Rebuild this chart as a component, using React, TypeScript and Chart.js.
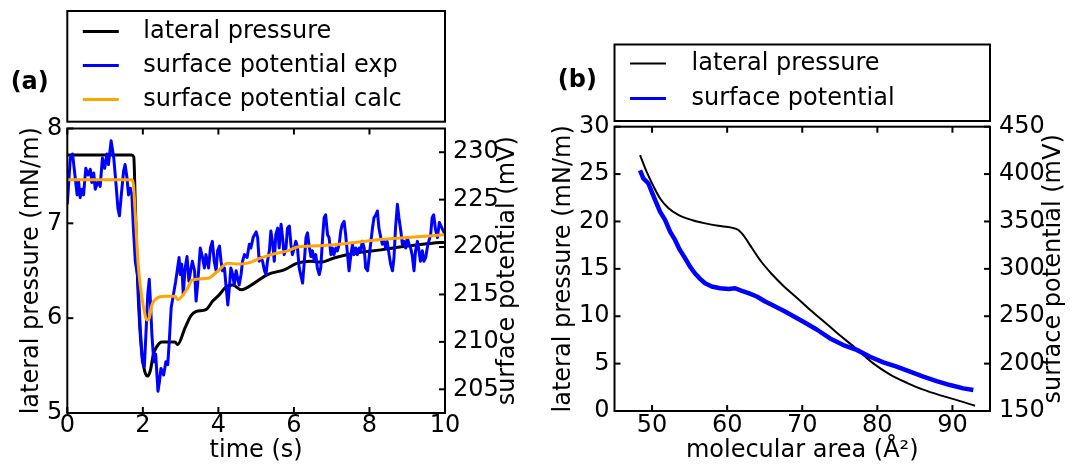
import React, { useEffect, useRef } from 'react';
import { Chart, registerables } from 'chart.js';

Chart.register(...registerables);

const FONT = '"DejaVu Sans", sans-serif';
const FONT_SIZE = 24;
const TICK_LEN = 6;

// ---------- Panel (a) data ----------
const timeTicks = [0, 2, 4, 6, 8, 10];
const pressureTicksA = [5, 6, 7, 8];
const potentialTicksA = [205, 210, 215, 220, 225, 230];

const pressureTime = [0, 1.70, 1.76, 1.80, 1.86, 1.92, 1.98, 2.05, 2.13, 2.20, 2.28, 2.37, 2.50, 2.85, 2.92, 3.12, 3.28, 3.41, 3.67, 3.85, 4.03, 4.20, 4.38, 4.60, 4.95, 5.30, 5.74, 6.09, 6.45, 6.71, 7.06, 7.68, 8.30, 9.00, 9.66, 10.0];
const pressureValues = [7.72, 7.72, 7.70, 7.20, 6.40, 5.90, 5.60, 5.44, 5.39, 5.45, 5.62, 5.70, 5.75, 5.75, 5.72, 5.90, 6.03, 6.07, 6.09, 6.18, 6.25, 6.33, 6.35, 6.30, 6.37, 6.46, 6.51, 6.58, 6.60, 6.59, 6.635, 6.69, 6.72, 6.76, 6.79, 6.80];

const calcTime = [0, 1.71, 1.75, 1.82, 1.87, 1.93, 2.02, 2.11, 2.17, 2.24, 2.37, 2.59, 2.85, 2.92, 3.19, 3.30, 3.72, 3.98, 4.25, 4.51, 4.77, 5.13, 5.48, 5.83, 6.09, 6.49, 7.06, 7.68, 8.30, 9.00, 9.66, 10.0];
const calcValues = [227.1, 227.1, 226.6, 222.0, 218.5, 216.0, 213.6, 212.3, 212.5, 213.9, 214.6, 214.8, 214.8, 214.45, 215.7, 216.5, 216.7, 217.45, 218.3, 218.2, 218.3, 218.85, 219.3, 219.6, 220.0, 220.1, 220.25, 220.5, 220.8, 221.0, 221.2, 221.3];

const expTime = [
  0.00, 0.08, 0.14, 0.21, 0.26, 0.30, 0.34, 0.39, 0.43, 0.49,
  0.55, 0.61, 0.65, 0.70, 0.74, 0.81, 0.87, 0.93, 0.99, 1.05,
  1.09, 1.16, 1.23, 1.29, 1.34, 1.38, 1.43, 1.49, 1.53, 1.58,
  1.62, 1.67, 1.71, 1.75, 1.80, 1.87, 1.93, 1.99, 2.04, 2.09,
  2.13, 2.17, 2.20, 2.24, 2.29, 2.34, 2.40, 2.44, 2.48, 2.55,
  2.61, 2.66, 2.70, 2.75, 2.81, 2.87, 2.92, 2.96, 2.99, 3.03,
  3.07, 3.12, 3.17, 3.22, 3.31, 3.37, 3.41, 3.45, 3.52, 3.58,
  3.63, 3.67, 3.74, 3.79, 3.84, 3.89, 3.94, 3.98, 4.03, 4.07,
  4.11, 4.16, 4.20, 4.25, 4.29, 4.33, 4.38, 4.42, 4.47, 4.51,
  4.55, 4.60, 4.64, 4.69, 4.76, 4.82, 4.86, 4.92, 5.00, 5.04,
  5.08, 5.13, 5.17, 5.22, 5.26, 5.30, 5.35, 5.39, 5.44, 5.48,
  5.52, 5.57, 5.61, 5.66, 5.70, 5.74, 5.79, 5.83, 5.88, 5.92,
  5.96, 6.01, 6.05, 6.09, 6.14, 6.18, 6.23, 6.27, 6.32, 6.36,
  6.40, 6.45, 6.49, 6.54, 6.58, 6.62, 6.67, 6.71, 6.76, 6.80,
  6.84, 6.89, 6.93, 6.98, 7.02, 7.06, 7.11, 7.15, 7.20, 7.24,
  7.28, 7.33, 7.37, 7.42, 7.46, 7.50, 7.55, 7.59, 7.64, 7.68,
  7.73, 7.77, 7.81, 7.86, 7.90, 7.95, 7.99, 8.03, 8.08, 8.12,
  8.17, 8.21, 8.25, 8.30, 8.34, 8.39, 8.43, 8.47, 8.52, 8.56,
  8.61, 8.65, 8.69, 8.74, 8.78, 8.83, 8.87, 8.91, 8.96, 9.00,
  9.05, 9.09, 9.13, 9.18, 9.22, 9.27, 9.31, 9.35, 9.40, 9.44,
  9.49, 9.53, 9.57, 9.62, 9.66, 9.70, 9.75, 9.80, 9.85, 9.92,
  10.00,
];
const expValues = [
  224.5, 229.4, 229.8, 227.3, 225.5, 226.9, 225.2, 226.1, 225.5, 228.3,
  227.6, 228.2, 226.8, 227.8, 226.1, 226.9, 226.4, 229.4, 228.3, 229.8,
  228.7, 231.2, 229.4, 226.6, 224.1, 223.3, 225.5, 228.0, 228.7, 227.3,
  225.5, 226.2, 225.5, 222.0, 218.5, 216.7, 211.5, 207.9, 207.4, 211.5,
  215.0, 216.6, 214.3, 210.8, 207.9, 208.7, 204.8, 205.8, 207.2, 206.5,
  207.9, 207.6, 210.1, 213.6, 215.0, 216.4, 217.8, 218.9, 217.1, 218.2,
  215.0, 217.8, 219.0, 216.4, 218.5, 217.5, 214.3, 216.0, 219.9, 218.9,
  217.8, 219.2, 217.8, 219.9, 220.6, 218.5, 217.5, 219.6, 220.1, 218.5,
  217.5, 217.8, 216.0, 213.9, 215.7, 217.8, 217.1, 216.0, 217.5, 216.7,
  216.0, 217.1, 218.5, 219.2, 218.9, 220.3, 219.9, 221.0, 221.6, 221.0,
  218.5, 218.9, 218.5, 217.5, 217.1, 218.5, 219.6, 221.7, 220.3, 218.5,
  221.3, 222.0, 219.9, 222.4, 221.0, 219.2, 219.9, 222.0, 222.2, 220.3,
  219.2, 219.9, 220.6, 220.1, 217.8, 217.1, 216.2, 218.2, 221.0, 221.5,
  220.2, 219.0, 219.6, 218.5, 219.2, 217.8, 217.1, 217.8, 221.0, 223.1,
  223.4, 221.3, 221.0, 219.2, 219.9, 219.2, 219.9, 219.6, 220.3, 221.7,
  222.4, 222.7, 221.3, 219.2, 217.5, 218.9, 220.3, 219.2, 219.9, 219.2,
  219.9, 219.6, 220.6, 219.9, 217.8, 217.5, 218.9, 220.3, 222.0, 223.1,
  223.4, 223.8, 222.0, 221.0, 220.3, 220.6, 219.9, 220.6, 219.2, 218.2,
  217.5, 218.9, 222.0, 224.5, 223.1, 221.7, 220.3, 220.6, 219.9, 221.0,
  220.3, 219.9, 219.2, 217.5, 219.6, 220.6, 219.6, 218.5, 219.6, 218.5,
  218.9, 219.9, 220.6, 221.3, 223.1, 223.4, 221.8, 221.0, 222.6, 222.0,
  221.3,
];

// ---------- Panel (b) data ----------
const areaTicks = [50, 60, 70, 80, 90];
const pressureTicksB = [0, 5, 10, 15, 20, 25, 30];
const potentialTicksB = [150, 200, 250, 300, 350, 400, 450];

const isothermArea = [48.4, 49.3, 50.2, 51.1, 52.2, 53.5, 55.3, 57.1, 58.8, 60.6, 61.5, 62.2, 63.3, 64.5, 66.0, 67.5, 69.2, 71.0, 72.8, 74.6, 77.0, 79.5, 81.7, 84.0, 86.1, 88.4, 90.6, 93.0];
const isothermPressure = [27.0, 25.2, 23.7, 22.4, 21.4, 20.7, 20.15, 19.8, 19.55, 19.35, 19.1, 18.5, 17.2, 15.8, 14.4, 13.2, 12.0, 10.7, 9.5, 8.25, 6.7, 5.0, 3.85, 2.95, 2.25, 1.65, 1.15, 0.55];

const potentialArea = [48.4, 48.84, 49.5, 49.95, 50.4, 51.06, 51.73, 52.4, 53.06, 53.7, 54.4, 55.06, 55.7, 56.4, 57.06, 57.95, 59.06, 60.2, 61.06, 61.95, 62.84, 63.95, 65.06, 66.4, 67.7, 68.95, 70.15, 71.92, 73.7, 75.47, 77.25, 79.02, 80.8, 82.57, 84.35, 86.12, 87.9, 89.67, 91.45, 92.78];
const potentialValues = [404, 395.5, 390.3, 381.5, 372.7, 360.4, 351.6, 339.3, 330.5, 320, 311.2, 302.4, 295.4, 289.4, 284.8, 281.3, 279.5, 278.8, 279.5, 276.7, 274.3, 270.8, 265.5, 260.2, 254.9, 249.5, 244.2, 236.0, 226.6, 219.6, 214.5, 207.3, 201.3, 196.8, 191.5, 186.2, 181.6, 177.4, 173.9, 172.1];

function pairs(xs: number[], ys: number[]) {
  return xs.map((x, i) => ({ x, y: ys[i] }));
}

type PanelCfg = {
  datasets: any[];
  xMin: number; xMax: number; xTicks: number[];
  yMin: number; yMax: number; yTicks: number[];
  y2Min: number; y2Max: number; y2Ticks: number[];
  top: number; xAxisHeight: number; leftWidth: number; rightWidth: number;
  xTickPad: number; leftTickPad: number; rightTickPad: number;
  xTitle: string; xTitlePad: number;
  leftTitle: string; leftTitlePad: number;
  rightTitle: string; rightTitleX: number;
  legend: { left: number; right: number; top: number; bottom: number; rows: number[]; lineX0: number; lineX1: number; textX: number; lineWidths: number[] };
  panelLabel: string; panelX: number; panelY: number;
};

function decor(cfg: PanelCfg) {
  return {
    id: 'decor',
    afterDraw(chart: any) {
      const ctx: CanvasRenderingContext2D = chart.ctx;
      const ca = chart.chartArea;
      ctx.save();
      ctx.strokeStyle = '#000';
      ctx.lineCap = 'butt';
      ctx.lineWidth = 2;
      const seg = (x1: number, y1: number, x2: number, y2: number) => {
        ctx.beginPath();
        ctx.moveTo(x1, y1);
        ctx.lineTo(x2, y2);
        ctx.stroke();
      };
      const xs = chart.scales.x;
      for (const t of xs.ticks) {
        const p = xs.getPixelForValue(t.value);
        seg(p, ca.bottom, p, ca.bottom - TICK_LEN);
        seg(p, ca.top, p, ca.top + TICK_LEN);
      }
      const yl = chart.scales.y;
      for (const t of yl.ticks) {
        const p = yl.getPixelForValue(t.value);
        seg(ca.left, p, ca.left + TICK_LEN, p);
      }
      const yr = chart.scales.y2;
      for (const t of yr.ticks) {
        const p = yr.getPixelForValue(t.value);
        seg(ca.right, p, ca.right - TICK_LEN, p);
      }
      ctx.strokeRect(ca.left, ca.top, ca.right - ca.left, ca.bottom - ca.top);

      // right axis title (reads bottom to top)
      ctx.save();
      ctx.translate(cfg.rightTitleX, (ca.top + ca.bottom) / 2);
      ctx.rotate(-Math.PI / 2);
      ctx.font = `${FONT_SIZE}px ${FONT}`;
      ctx.fillStyle = '#000';
      ctx.textAlign = 'center';
      ctx.textBaseline = 'middle';
      ctx.fillText(cfg.rightTitle, 0, 0);
      ctx.restore();

      // legend box
      const L = cfg.legend;
      ctx.fillStyle = '#fff';
      ctx.fillRect(L.left, L.top, L.right - L.left, L.bottom - L.top);
      ctx.lineWidth = 2;
      ctx.strokeStyle = '#000';
      ctx.strokeRect(L.left, L.top, L.right - L.left, L.bottom - L.top);
      ctx.font = `${FONT_SIZE}px ${FONT}`;
      ctx.textAlign = 'left';
      ctx.textBaseline = 'middle';
      chart.data.datasets.forEach((ds: any, i: number) => {
        const y = L.rows[i];
        ctx.strokeStyle = ds.borderColor;
        ctx.lineWidth = L.lineWidths[i];
        seg(L.left + L.lineX0, y, L.left + L.lineX1, y);
        ctx.fillStyle = '#000';
        ctx.fillText(ds.label, L.left + L.textX, y);
      });

      // panel label
      ctx.font = `bold ${FONT_SIZE}px ${FONT}`;
      ctx.fillStyle = '#000';
      ctx.textAlign = 'center';
      ctx.textBaseline = 'alphabetic';
      ctx.fillText(cfg.panelLabel, cfg.panelX, cfg.panelY);
      ctx.restore();
    },
  };
}

function buildChart(canvas: HTMLCanvasElement, cfg: PanelCfg) {
  const tickFont = { family: FONT, size: FONT_SIZE, lineHeight: 1 };
  return new Chart(canvas, {
    type: 'line',
    data: { datasets: cfg.datasets },
    options: {
      animation: false,
      responsive: false,
      devicePixelRatio: 1,
      events: [],
      layout: { padding: { top: cfg.top, left: 0, right: 0, bottom: 0 } },
      plugins: { legend: { display: false }, tooltip: { enabled: false }, title: { display: false } },
      elements: { point: { radius: 0 }, line: { borderJoinStyle: 'round' } },
      scales: {
        x: {
          type: 'linear',
          min: cfg.xMin,
          max: cfg.xMax,
          afterBuildTicks: (s: any) => { s.ticks = cfg.xTicks.map((v) => ({ value: v })); },
          afterFit: (s: any) => { s.height = cfg.xAxisHeight; },
          grid: { display: false, drawTicks: false },
          border: { display: false },
          ticks: { font: tickFont, color: '#000', padding: cfg.xTickPad, autoSkip: false, maxRotation: 0, callback: (v: any) => String(v) },
          title: { display: true, text: cfg.xTitle, color: '#000', font: tickFont, padding: { top: 0, bottom: cfg.xTitlePad } },
        },
        y: {
          type: 'linear',
          position: 'left',
          min: cfg.yMin,
          max: cfg.yMax,
          afterBuildTicks: (s: any) => { s.ticks = cfg.yTicks.map((v) => ({ value: v })); },
          afterFit: (s: any) => { s.width = cfg.leftWidth; },
          grid: { display: false, drawTicks: false },
          border: { display: false },
          ticks: { font: tickFont, color: '#000', padding: cfg.leftTickPad, autoSkip: false, callback: (v: any) => String(v) },
          title: { display: true, text: cfg.leftTitle, color: '#000', font: tickFont, padding: { top: cfg.leftTitlePad, bottom: 0 } },
        },
        y2: {
          type: 'linear',
          position: 'right',
          min: cfg.y2Min,
          max: cfg.y2Max,
          afterBuildTicks: (s: any) => { s.ticks = cfg.y2Ticks.map((v) => ({ value: v })); },
          afterFit: (s: any) => { s.width = cfg.rightWidth; },
          grid: { display: false, drawTicks: false },
          border: { display: false },
          ticks: { font: tickFont, color: '#000', padding: cfg.rightTickPad, autoSkip: false, callback: (v: any) => String(v) },
        },
      },
    } as any,
    plugins: [decor(cfg) as any],
  });
}

const panelA: PanelCfg = {
  datasets: [
    { label: 'lateral pressure', data: pairs(pressureTime, pressureValues), borderColor: '#000000', borderWidth: 3, yAxisID: 'y', order: 3, fill: false, pointRadius: 0, cubicInterpolationMode: 'monotone' },
    { label: 'surface potential exp', data: pairs(expTime, expValues), borderColor: '#0000ff', borderWidth: 3, yAxisID: 'y2', order: 2, fill: false, pointRadius: 0 },
    { label: 'surface potential calc', data: pairs(calcTime, calcValues), borderColor: '#ffa500', borderWidth: 3, yAxisID: 'y2', order: 1, fill: false, pointRadius: 0, cubicInterpolationMode: 'monotone' },
  ],
  xMin: 0, xMax: 10, xTicks: timeTicks,
  yMin: 5, yMax: 8, yTicks: pressureTicksA,
  y2Min: 202.5, y2Max: 232.5, y2Ticks: potentialTicksA,
  top: 128.5, xAxisHeight: 51, leftWidth: 67.3, rightWidth: 90,
  xTickPad: 0.5, leftTickPad: 5, rightTickPad: 8,
  xTitle: 'time (s)', xTitlePad: 1,
  leftTitle: 'lateral pressure (mN/m)', leftTitlePad: 19.5,
  rightTitle: 'surface potential (mV)', rightTitleX: 508,
  legend: { left: 67.3, right: 445, top: 11, bottom: 121.7, rows: [31.5, 65.5, 99.5], lineX0: 15.5, lineX1: 51.5, textX: 76, lineWidths: [3, 3, 3] },
  panelLabel: '(a)', panelX: 29.7, panelY: 89,
};

const panelB: PanelCfg = {
  datasets: [
    { label: 'lateral pressure', data: pairs(isothermArea, isothermPressure), borderColor: '#000000', borderWidth: 2, yAxisID: 'y', order: 2, fill: false, pointRadius: 0, cubicInterpolationMode: 'monotone' },
    { label: 'surface potential', data: pairs(potentialArea, potentialValues), borderColor: '#0000ff', borderWidth: 4.5, yAxisID: 'y2', order: 1, fill: false, pointRadius: 0 },
  ],
  xMin: 45, xMax: 95, xTicks: areaTicks,
  yMin: 0, yMax: 30, yTicks: pressureTicksB,
  y2Min: 150, y2Max: 450, y2Ticks: potentialTicksB,
  top: 126.7, xAxisHeight: 53, leftWidth: 79.5, rightWidth: 80,
  xTickPad: 2.5, leftTickPad: 5, rightTickPad: 9,
  xTitle: 'molecular area (Å²)', xTitlePad: 1,
  leftTitle: 'lateral pressure (mN/m)', leftTitlePad: 17,
  rightTitle: 'surface potential (mV)', rightTitleX: 519,
  legend: { left: 79.5, right: 455, top: 44.5, bottom: 121, rows: [63.5, 98.5], lineX0: 15.5, lineX1: 51.5, textX: 77, lineWidths: [2, 3] },
  panelLabel: '(b)', panelX: 42.4, panelY: 87,
};

function Panel({ cfg, left }: { cfg: PanelCfg; left: number }) {
  const ref = useRef<HTMLCanvasElement>(null);
  useEffect(() => {
    if (!ref.current) return;
    const chart = buildChart(ref.current, cfg);
    return () => chart.destroy();
  }, [cfg]);
  return (
    <canvas
      ref={ref}
      width={535}
      height={464}
      style={{ position: 'absolute', left, top: 0, width: 535, height: 464 }}
    />
  );
}

export default function App() {
  return (
    <div style={{ position: 'absolute', left: 0, top: 0, width: 1070, height: 464, background: '#ffffff', overflow: 'hidden' }}>
      <Panel cfg={panelA} left={0} />
      <Panel cfg={panelB} left={535} />
    </div>
  );
}
